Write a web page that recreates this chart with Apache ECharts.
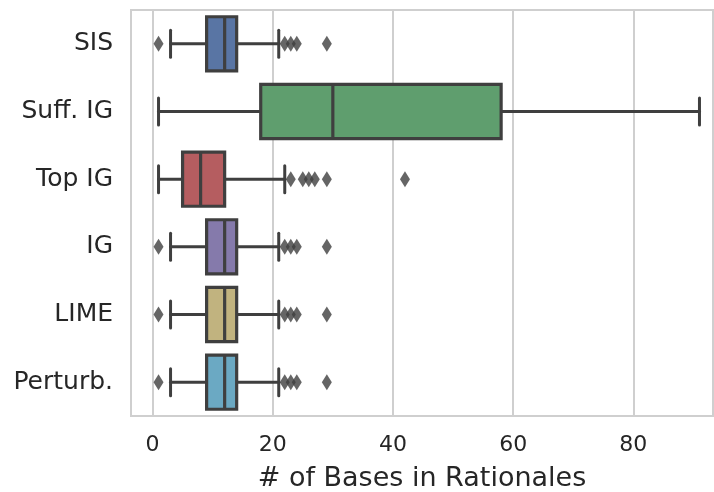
<!DOCTYPE html>
<html>
<head>
<meta charset="utf-8">
<script src="https://cdn.jsdelivr.net/npm/echarts@6/dist/echarts.min.js"></script>
<style>
  html, body { margin: 0; padding: 0; background: #fff; }
  #chart { width: 714px; height: 492px; }
</style>
</head>
<body>
<div id="chart"></div>
<script>
const categories = ['SIS', 'Suff. IG', 'Top IG', 'IG', 'LIME', 'Perturb.'];

// [low whisker, Q1, median, Q3, high whisker]
const boxStats = [
  [3, 9, 12, 14, 21],
  [1, 18, 30, 58, 91],
  [1, 5, 8, 12, 22],
  [3, 9, 12, 14, 21],
  [3, 9, 12, 14, 21],
  [3, 9, 12, 14, 21]
];

const outliers = [
  [1, 22, 23, 24, 29],
  [],
  [23, 25, 26, 27, 29, 42],
  [1, 22, 23, 24, 29],
  [1, 22, 23, 24, 29],
  [1, 22, 23, 24, 29]
];

const boxColors = ['#5975a4', '#5f9e6e', '#b55d60', '#857aab', '#c1b37f', '#6ba9c3'];

const lineColor = '#3f3f3f';
const textColor = '#262626';

function buildBoxData() {
  const arr = [];
  for (let i = 0; i < boxStats.length; i++) {
    arr.push([i].concat(boxStats[i]));
  }
  return arr;
}

function buildOutlierData() {
  const arr = [];
  for (let i = 0; i < outliers.length; i++) {
    for (let j = 0; j < outliers[i].length; j++) {
      arr.push([outliers[i][j], i]);
    }
  }
  return arr;
}

function renderBox(params, api) {
  const idx = api.value(0);
  const band = api.size([0, 1])[1];
  const half = band * 0.4;
  const capHalf = half / 2;
  const lo = api.coord([api.value(1), idx]);
  const q1 = api.coord([api.value(2), idx]);
  const med = api.coord([api.value(3), idx]);
  const q3 = api.coord([api.value(4), idx]);
  const hi = api.coord([api.value(5), idx]);
  const y = lo[1];
  const lineStyle = { stroke: lineColor, lineWidth: 3, lineCap: 'round' };
  return {
    type: 'group',
    children: [
      { type: 'line', shape: { x1: lo[0], y1: y, x2: q1[0], y2: y }, style: lineStyle },
      { type: 'line', shape: { x1: q3[0], y1: y, x2: hi[0], y2: y }, style: lineStyle },
      { type: 'line', shape: { x1: lo[0], y1: y - capHalf, x2: lo[0], y2: y + capHalf }, style: lineStyle },
      { type: 'line', shape: { x1: hi[0], y1: y - capHalf, x2: hi[0], y2: y + capHalf }, style: lineStyle },
      {
        type: 'rect',
        shape: { x: q1[0], y: y - half, width: q3[0] - q1[0], height: half * 2 },
        style: { fill: boxColors[idx], stroke: lineColor, lineWidth: 3.2 }
      },
      { type: 'line', shape: { x1: med[0], y1: y - half, x2: med[0], y2: y + half }, style: { stroke: lineColor, lineWidth: 3.2 } }
    ]
  };
}

const chart = echarts.init(document.getElementById('chart'));
chart.setOption({
  animation: false,
  grid: {
    left: 131,
    right: 1,
    top: 10,
    bottom: 76,
    outerBoundsMode: 'none',
    show: true,
    borderColor: '#cfcfcf',
    borderWidth: 2
  },
  xAxis: {
    type: 'value',
    min: -3.58,
    max: 93.25,
    name: '# of Bases in Rationales',
    nameLocation: 'middle',
    nameGap: 49,
    nameTextStyle: {
      color: textColor,
      fontSize: 27,
      fontFamily: 'DejaVu Sans'
    },
    axisLine: { show: false },
    axisTick: { show: false },
    axisLabel: {
      color: textColor,
      fontSize: 22,
      fontFamily: 'DejaVu Sans',
      margin: 18,
      showMinLabel: false,
      showMaxLabel: false,
      formatter: function (v) {
        return v % 20 === 0 ? String(v) : '';
      }
    },
    splitLine: {
      lineStyle: { color: '#cfcfcf', width: 2 }
    }
  },
  yAxis: {
    type: 'category',
    data: categories,
    inverse: true,
    axisLine: { show: false },
    axisTick: { show: false },
    splitLine: { show: false },
    axisLabel: {
      color: textColor,
      fontSize: 25,
      fontFamily: 'DejaVu Sans',
      margin: 18
    }
  },
  series: [
    {
      type: 'custom',
      renderItem: renderBox,
      encode: { x: [1, 2, 3, 4, 5], y: 0 },
      data: buildBoxData(),
      z: 2
    },
    {
      type: 'scatter',
      symbol: 'diamond',
      symbolSize: [10, 16],
      itemStyle: { color: lineColor },
      data: buildOutlierData(),
      z: 3
    }
  ]
});
</script>
</body>
</html>
